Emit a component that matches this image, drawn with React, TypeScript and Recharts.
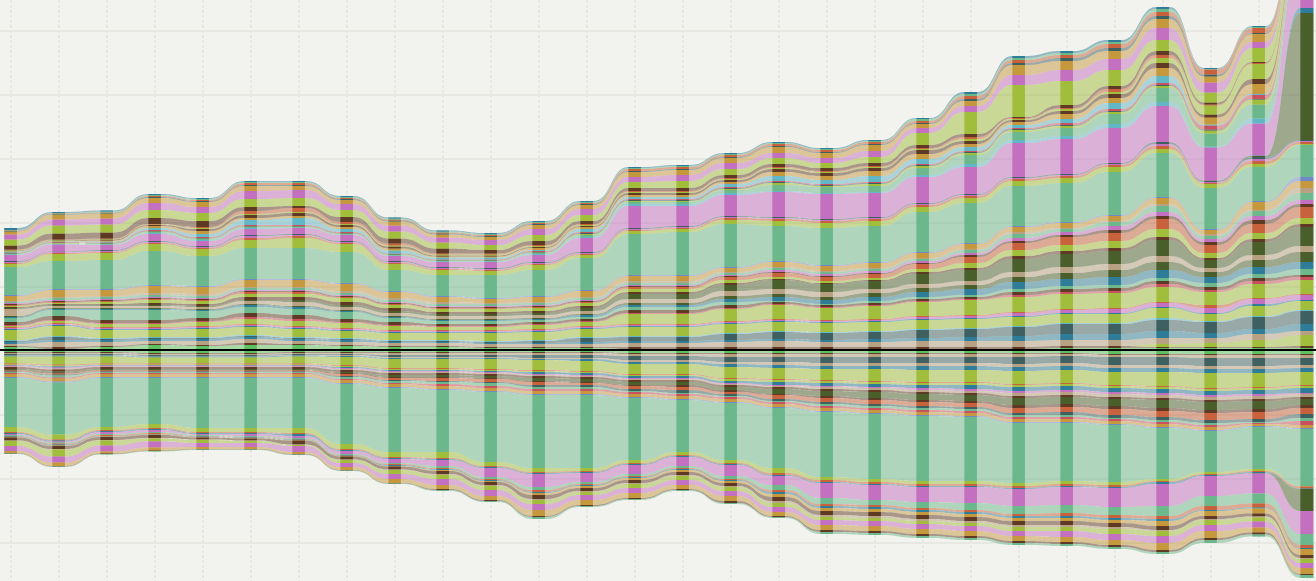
import React from "react";
import { ComposedChart, Area, Bar, XAxis, YAxis, CartesianGrid, ReferenceLine, Rectangle } from "recharts";

const G = "#6cb88c", M = "#c470c0", Y = "#a0bd3c", B = "#5e3a24", O = "#c6983e", C = "#62b6c6", S = "#2f7c98";
const R = "#c8623c", T = "#3e6060", N = "#b8a082", D = "#4a5e2c", P = "#6f88c8", L = "#5cc060", X = "#c85060";

const columns = Array.from({ length: 28 }, (_, i) => i);

// Upper stack, centre outward, values in chart units
const a1 = [3,1,3,5,4,5,5,4,3,3,2,2,2,1,1,1,1,1,1,1,1,1,2,2,2,2,2,2];
const a2 = [1,2,1,1,1,2,1,1,1,1,1,1,1,2,2,2,2,2,2,2,2,2,2,2,1,1,1,2];
const a2b = [0,0,0,0,0,0,0,0,0,0,0,0,0,0,0,0,0,0,0,0,0,0,0,0,3,4,7,11];
const a3 = [2,5,4,3,4,4,3,3,3,3,3,3,3,4,4,5,6,5,5,6,6,6,6,6,6,5,6,4];
const a4 = [2,2,2,2,2,2,2,2,1,1,1,1,2,2,2,2,2,2,3,3,4,5,6,6,7,5,5,7];
const a5 = [1,3,1,1,1,1,1,1,1,1,1,2,4,4,4,6,7,7,7,8,8,9,10,10,11,11,12,13];
const a6 = [1,1,1,1,1,1,1,1,1,1,1,1,1,1,1,1,1,1,1,1,1,1,1,1,2,1,1,1];
const a7 = [10,10,8,7,8,8,8,7,7,7,8,8,8,9,9,9,9,9,9,9,9,9,9,9,10,7,10,9];
const a8 = [1,1,1,1,1,1,1,1,1,1,1,1,1,1,1,1,1,1,1,1,1,1,1,1,1,1,2,1];
const a9 = [1,1,1,1,1,1,1,1,1,1,1,1,1,1,1,1,1,1,1,2,2,3,3,4,4,5,5,5];
const a10 = [1,1,1,1,1,1,1,1,1,1,1,1,1,1,1,1,1,1,1,1,1,1,1,1,1,3,1,1];
const a11 = [1,2,3,3,4,5,5,5,4,3,3,4,4,10,10,12,14,12,13,14,15,15,15,15,15,13,14,14];
const a12 = [1,1,1,1,1,2,2,1,1,1,1,1,1,1,1,1,1,1,1,1,1,2,2,2,3,2,3,3];
const a13 = [3,4,3,3,3,4,4,3,3,2,2,2,2,3,3,3,2,2,2,2,2,3,3,3,3,3,3,2];
const a14 = [4,6,10,10,7,6,6,7,4,3,3,2,2,3,3,3,1,1,2,2,2,3,3,3,3,4,4,6];
const a15 = [1,1,1,1,1,2,2,1,1,1,1,1,2,2,2,3,4,4,4,5,6,7,7,8,8,6,7,7];
const a16 = [1,1,1,1,1,1,1,1,1,1,1,1,1,2,2,3,3,3,4,4,4,5,6,7,8,5,7,10];
const a17 = [7,2,2,2,2,3,4,3,3,3,3,3,3,4,4,5,5,5,4,4,4,5,6,6,6,4,5,6];
const a18 = [1,1,1,1,1,1,2,2,2,2,2,2,3,5,5,6,9,8,8,10,11,13,13,13,16,8,13,19];
const a19 = [1,1,1,2,2,3,3,3,3,2,2,2,2,2,2,2,1,1,1,2,2,3,3,3,3,2,3,3];
const a20 = [1,1,2,3,3,3,3,4,3,3,3,3,3,3,3,3,2,2,2,3,5,6,6,7,8,5,6,6];
const a21 = [1,1,1,1,1,2,2,1,1,1,1,1,1,2,2,3,4,4,4,5,6,7,8,8,10,8,9,11];
const a22 = [1,1,1,1,1,1,1,1,1,1,1,1,1,1,1,1,1,1,1,1,2,2,2,3,3,3,4,3];
const a23 = [1,1,1,1,1,1,1,1,1,1,1,1,1,1,1,1,2,2,2,2,2,3,3,4,4,3,4,4];
const a24 = [1,2,2,2,2,2,2,2,2,2,2,2,2,2,2,2,2,2,2,2,3,4,3,4,6,3,5,7];
const a25 = [1,1,1,2,2,1,1,2,2,2,1,1,1,2,2,1,1,1,1,1,1,2,1,1,2,2,1,5];
const a26 = [5,7,6,7,7,7,7,7,6,5,4,5,6,5,5,4,5,5,5,5,5,5,5,5,6,4,8,7];
const a27 = [1,1,1,1,1,1,1,1,1,1,1,1,1,1,1,1,1,1,1,1,1,1,1,1,1,1,1,4];
const upperGreen = [28,28,29,34,30,31,31,31,21,21,23,26,32,41,43,43,35,37,36,40,40,40,39,43,44,41,34,32];
const c1 = [3,7,7,7,7,8,10,8,6,5,4,5,3,3,3,4,5,5,5,5,5,5,5,5,4,4,3,1];
const c2 = [1,1,1,1,1,2,2,1,1,1,1,1,1,1,1,2,2,2,2,2,2,2,2,2,3,1,3,2];
const c3 = [1,1,1,1,1,2,1,1,1,1,1,1,1,1,1,1,1,1,1,1,1,1,1,1,2,1,2,1];
const c4 = [1,0.5,1,1,1,1,1,1,1,1,1,1,1,1,1,1,1,1,1,1,1,1,1,1,2,1,2,1];
const cOlive = [0,0,0,0,0,0,0,0,0,0,0,0,0,0,0,0,0,0,0,0,0,0,0,0,0,0.5,1,127];
const cSteel = [0,0,0,0,0,0,0,0,0,0,0,0,0,0,0,0,0,0,0,0,0,0,0,0,0,0,0.5,5];
const c5 = [6,7,5,7,5,6,6,6,5,5,6,7,14,22,20,21,25,25,24,26,27,34,35,35,36,33,32,50];
const c6 = [0.5,0.5,0.5,1,1,1,0.5,0.5,0.5,0.5,0.5,1,1,2,2,2,1,1,1,2,3,3,3,4,4,1,5,1];
const c7 = [0.5,0.5,0.5,1,1,1,0.5,0.5,0.5,0.5,0.5,1,2,2,2,3,6,6,6,7,9,8,8,10,14,13,14,4];
const c8 = [0.5,0.5,0.5,0.5,0.5,0.5,0.5,0.5,0.5,0.5,0.5,0.5,1,1,1,1,2,1,2,2,2,2,2,2,2,3,5,2];
const c9 = [0.5,0.5,0.5,0.5,0.5,0.5,0.5,0.5,0.5,0.5,0.5,0.5,1,1,1,1,1,1,1,1,1,1,1,1,1,1,0.5,1];
const c10 = [0.5,0.5,0.5,1,1,1,1,1,0.5,0.5,0.5,1,1,1,1,1,1,1,1,1,1,1,2,2,2,4,4,1];
const c11 = [1,0.5,1,2,3,5,7,3,3,2,2,1,3,2,2,3,5,4,6,5,4,3,4,6,7,1,1,2];
const c12 = [0.5,0.5,1,2,3,2,2,2,2,1,1,2,2,2,2,2,4,4,5,5,3,3,5,5,8,7,10,4];
const c13 = [0.5,0.5,1,1,2,3,3,2,2,1,1,1,1,2,2,2,3,3,3,4,3,2,3,4,5,3,5,2];
const c14 = [0.5,0.5,0.5,0.5,1,1,1,1,1,1,1,1,1,1,1,1,1,1,1,1,2,1,2,2,5,9,15,3];
const c15 = [0.5,0.5,0.5,0.5,1,3,4,2,2,1,1,1,1,1,1,1,1,1,1,1,2,1,1,3,3,1,1,1];
const c16 = [4,6,6,6,6,4,2,5,5,5,3.5,4,3,3,3,3,3,3,3,3,3,1,3,3,4,2,1,1];
const c17 = [6,8,8,8,8,8,8,7,7,6,5,6,6,6,7,6,6,5,6,12,22,32,24,16,11,10,14,3];
const c18 = [5,6,6,7,6,8,8,6,6,5,5,6,6,5,6,6,5,5,6,5,6,10,11,11,12,10,6,3];
const c19 = [3,5,5,5,5,5,4,4,4,3,3,4,4,5,5,5,6,5,6,4,5,10,9,8,9,6,8,3];
const c20 = [0.5,0.5,0.5,1,1,1,1,1,1,1,1,1,1,1,1,1,1,1,1,1,2,2,3,3,3,2,1,1];
const c21 = [0.5,0.5,0.5,1,1,2,2,1,1,1,1,1,1,2,2,2,2,2,2,2,3,3,3,4,4,5,5,1];
const c22 = [0.5,0.5,1,1,1,1,1,1,1,1,1,1,1,1,1,1,1,1,1,2,2,2,2,2,3,0.5,1,1];
const c23 = [2,1,1,1,1,1,1,1,1,1,1,1,1,1,1,1,1,1,1,1,2,2,2,2,2,1,1,1];

// Lower stack, centre outward
const e1 = [2,2,2,3,3,3,2,2,2,2,2,2,2,3,3,3,3,3,3,3,3,3,3,4,4,4,4,4];
const e2 = [1,1,1,1,1,1,1,1,1,1,1,1,1,1,1,1,1,1,1,1,1,1,1,1,1,1,1,1];
const e3 = [1,1,1,1,1,1,1,1,2,2,2,2,2,2,2,3,3,3,3,3,3,3,2,2,2,3,3,3];
const e4 = [1,1,1,1,1,1,1,1,2,2,2,3,3,4,4,5,5,6,6,6,6,7,7,8,8,8,8,7];
const e5 = [0.5,0.5,0.5,0.5,0.5,0.5,0.5,1,1,1,1,1,1,2,2,2,3,3,3,3,3,3,3,3,3,3,3,3];
const e6 = [1,1,1,1,1,1,1,1,1,1,1,1,2,2,2,3,3,3,3,4,4,4,4,4,4,4,4,4];
const e7 = [7,8,7,6,6,6,7,8,9,9,10,10,10,10,10,11,11,11,12,12,12,13,13,13,14,15,14,13];
const e8 = [1,1,1,1,1,1,1,1,1,1,1,1,1,1,1,1,1,1,1,1,1,1,1,1,1,1,1,1];
const e9 = [0.5,1,0.5,0.5,0.5,0.5,0.5,1,1,1,1,1,1,1,1,2,2,2,2,2,2,2,2,2,2,2,2,2];
const e10 = [0.5,1,0.5,0.5,0.5,0.5,0.5,1,1,1,1,2,2,2,2,2,3,3,3,3,4,4,4,4,4,4,4,5];
const e11 = [1,1,1,1,1,1,1,1,1,1,1,1,1,1,1,1,1,1,1,2,2,2,2,2,2,2,2,1];
const e12 = [0.5,1,0.5,0.5,0.5,0.5,0.5,1,1,1,1,1,1,1,1,1,1,2,2,2,2,3,3,3,3,3,3,3];
const e13 = [2,2,2,2,2,2,2,2,2,2,2,2,2,2,2,2,2,2,2,2,2,2,2,2,2,2,2,2];
const e14 = [1,1,1,1,1,1,1,1,2,2,2,3,3,3,3,3,5,5,6,6,6,7,7,7,8,8,8,6];
const e15 = [0.5,1,0.5,0.5,0.5,0.5,0.5,1,1,1,1,1,1,1,2,2,1,2,2,2,2,3,3,3,3,3,3,3];
const e16 = [1,1,1,1,1,1,1,2,2,3,3,3,2,3,3,2,4,4,4,4,4,5,5,6,6,7,7,6];
const e17 = [0.5,1,0.5,0.5,0.5,0.5,0.5,1,1,1,1,2,2,2,3,2,2,2,2,2,2,2,3,3,3,3,3,4];
const e18 = [1,2,1,1,1,1,1,2,2,2,3,2,2,1,1,1,1,2,2,2,2,2,2,1,2,2,1,3];
const e19 = [1,1,1,1,1,1,1,1,1,2,2,2,2,2,2,2,2,2,2,2,2,2,2,2,2,2,1,4];
const e20 = [3,3,3,3,3,3,3,3,3,3,3,3,3,3,3,3,3,3,3,3,3,3,3,3,3,3,2,3];
const e21 = [1,1,1,1,1,1,1,1,1,1,1,1,1,1,1,1,1,1,1,1,1,1,1,1,1,1,1,1];
const lowerGreen = [49,52,49,46,50,50,50,60,64,62,70,73,73,62,52,57,60,65,65,65,64,60,58,57,51,41,42,57];
const f1 = [5,5,3,4,4,4,5,5,5,6,4,4,3,3,3,3,5,3,3,3,3,3,3,3,2,2,2,0.5];
const f2 = [1,1,1,1,1,1,1,1,1,1,1,1,1,1,1,1,2,2,2,2,2,2,2,2,1,1,1,2];
const f3 = [1,1,1,1,1,1,2,1,1,1,1,1,1,1,1,1,1,1,1,1,1,1,1,1,2,1,1,0.5];
const f4 = [0.01,0.01,0.01,0.01,0.01,0.01,0.01,0.01,0.01,0.01,0.01,0.01,0.01,0.01,0.01,0.01,0.01,0.01,0.01,0.01,0.01,0.01,0.01,0.01,0.01,0.01,0.5,22];
const f5 = [1,1,2,2,1,2,2,3,4,6,9,13,9,9,9,11,9,15,15,15,16,17,18,19,22,20,20,23];
const f6 = [1,1,1,1,1,1,1,1,1,2,2,3,2,2,2,3,5,6,5,6,7,8,8,8,10,10,10,11];
const f7 = [0.5,1,1,1,0.5,0.5,0.5,0.5,1,1,1,2,1,1,1,1,2,2,2,2,2,2,3,3,3,4,4,3];
const f8 = [0.5,1,0.5,0.5,0.5,0.5,0.5,0.5,1,1,1,1,1,1,1,1,2,2,2,2,2,2,2,2,2,1,1,1];
const f9 = [0.5,0.5,0.5,0.5,0.5,0.5,0.5,0.5,0.5,1,1,2,2,2,2,2,3,3,3,3,3,3,3,3,5,5,5,6];
const f10 = [3,3,3,3,2,2,4,3,3,3,3,4,3,3,3,3,4,4,4,4,4,4,4,4,4,3,3,3];
const f11 = [0.5,0.5,0.5,0.5,0.5,0.5,0.5,0.5,0.5,1,1,1,1,1,1,1,2,2,2,2,2,2,2,2,1,1,1,1];
const f12 = [5,7,5,3,3,2,1,3,4,4,4,4,3,4,4,4,4,3,3,3,3,4,4,5,5,5,4,4];
const f13 = [5,6,6,6,4,4,6,4,5,6,6,6,5,5,5,5,5,5,5,5,5,5,6,6,7,6,6,5];
const f14 = [2,3.5,2,3,2,2,2,3,4,4,4,6,5,5,4,5,4,5,5,5,5,5,5,5,7,7,5,6];
const f15 = [0.5,0.5,0.5,0.5,0.5,0.5,0.5,0.5,0.5,1,1,1,1,1,1,2,1,2,2,2,2,2,2,2,2,2,2,1];
const f16 = [0.5,0.5,0.5,0.5,0.5,0.5,0.5,0.5,0.5,1,1,2,1,1,1,1,1,2,2,2,2,2,2,2,2,3,2,3];

const upperSeries: [number[], string][] = [
  [a1,L],[a2,B],[a2b,Y],[a3,N],[a4,S],[a5,T],[a6,C],[a7,Y],[a8,S],[a9,M],[a10,R],[a11,Y],[a12,X],[a13,B],[a14,G],
  [a15,S],[a16,D],[a17,N],[a18,D],[a19,B],[a20,Y],[a21,R],[a22,B],[a23,M],[a24,G],[a25,N],[a26,O],[a27,P],
  [upperGreen,G],[c1,Y],[c2,R],[c3,M],[c4,T],[cOlive,D],[cSteel,S],[c5,M],[c6,C],[c7,G],[c8,Y],[c9,T],[c10,X],
  [c11,C],[c12,O],[c13,B],[c14,Y],[c15,R],[c16,B],[c17,Y],[c18,M],[c19,O],[c20,T],[c21,R],[c22,G],[c23,S],
];
const lowerSeries: [number[], string][] = [
  [e1,L],[e2,B],[e3,N],[e4,T],[e5,N],[e6,S],[e7,Y],[e8,R],[e9,Y],[e10,S],[e11,M],[e12,N],[e13,B],[e14,D],
  [e15,B],[e16,R],[e17,T],[e18,G],[e19,X],[e20,O],[e21,P],
  [lowerGreen,G],[f1,Y],[f2,R],[f3,S],[f4,D],[f5,M],[f6,G],[f7,R],[f8,S],[f9,O],[f10,B],[f11,N],[f12,Y],[f13,M],[f14,O],[f15,B],[f16,G],
];

const bands = [
  ...upperSeries.map(([v, color], i) => ({ key: `u${i}`, values: v, sign: 1, color })),
  ...lowerSeries.map(([v, color], i) => ({ key: `l${i}`, values: v, sign: -1, color })),
];

const BAR_HALF = 7 / 48;
const table = columns.flatMap((col) =>
  [-BAR_HALF, 0, BAR_HALF].map((off) => {
    const row: Record<string, number | null> = { x: col + off };
    bands.forEach((b) => {
      row[b.key] = b.sign * b.values[col];
      row[`bar_${b.key}`] = off === 0 ? b.sign * b.values[col] : null;
    });
    return row;
  })
);

const gridValues = [319, 255, 191, 127, 63, -65, -129, -193];

// The band size is the gap between rows (half a bar), so the slot is doubled about its centre.
const ColumnSegment = (p: any) => (
  <Rectangle x={p.x - p.width / 2} y={p.y} width={p.width * 2} height={p.height} fill={p.fill} />
);

export default function App() {
  return (
    <div style={{ position: "absolute", left: 0, top: 0, width: 1316, height: 581, background: "#f2f3ee", overflow: "hidden" }}>
      <ComposedChart width={1316} height={581} data={table} stackOffset="sign" margin={{ top: 0, right: 0, bottom: 0, left: 0 }}>
        <XAxis dataKey="x" type="number" domain={[-11 / 48, 1305 / 48]} allowDataOverflow hide />
        <YAxis type="number" domain={[-231, 350]} allowDataOverflow hide />
        <CartesianGrid vertical={false} horizontalValues={gridValues} stroke="#e7e8e2" strokeWidth={2} />
        <CartesianGrid horizontal={false} verticalValues={columns} stroke="#e7e8e2" strokeWidth={2} strokeDasharray="3 2" />
        {bands.map((b) => (
          <Area
            key={b.key}
            dataKey={b.key}
            stackId="ribbons"
            type="bumpX"
            stroke="none"
            fill={b.color}
            fillOpacity={0.5}
            dot={false}
            activeDot={false}
            isAnimationActive={false}
          />
        ))}
        {bands.map((b) => (
          <Bar key={`bar_${b.key}`} dataKey={`bar_${b.key}`} stackId="columns" barSize={7} fill={b.color} shape={ColumnSegment} isAnimationActive={false} />
        ))}
        <ReferenceLine y={0} stroke="#000000" strokeWidth={2} />
      </ComposedChart>
    </div>
  );
}
